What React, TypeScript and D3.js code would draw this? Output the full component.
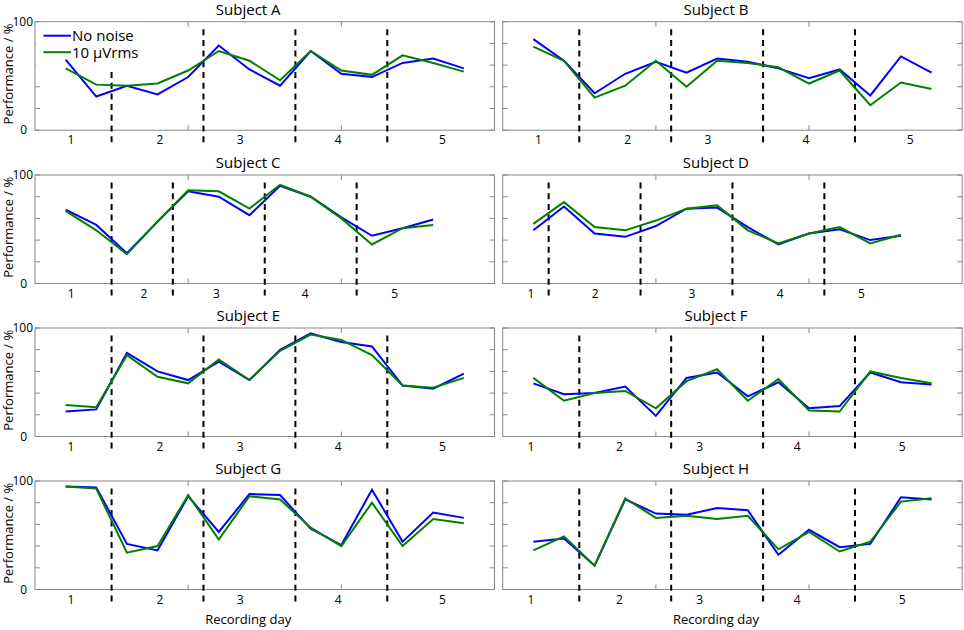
import * as d3 from "d3";

const subjects = ["A", "B", "C", "D", "E", "F", "G", "H"];
const dayNames = ["1", "2", "3", "4", "5"];

// performance per session (%)
const noNoise = [
  [65, 31, 41, 33, 49, 78, 56, 41, 73, 52, 49, 62, 66, 57],
  [84, 64, 34, 52, 63, 53, 66, 63, 57, 48, 56, 32, 68, 53],
  [68, 54, 28, 57, 85, 80, 63, 90, 80, 61, 44, 51, 59],
  [49, 71, 46, 43, 53, 69, 70, 52, 36, 46, 50, 40, 44],
  [23, 25, 77, 60, 52, 69, 52, 80, 95, 87, 83, 47, 44, 58],
  [49, 39, 40, 46, 19, 54, 59, 37, 50, 26, 28, 59, 50, 48],
  [95, 94, 42, 36, 86, 53, 88, 87, 56, 41, 92, 44, 71, 66],
  [44, 47, 22, 83, 70, 69, 75, 73, 32, 55, 39, 42, 85, 83],
];

const noise10 = [
  [57, 42, 41, 43, 55, 73, 64, 46, 73, 55, 51, 69, 62, 54],
  [77, 64, 30, 41, 64, 40, 64, 62, 58, 43, 55, 23, 44, 38],
  [67, 49, 27, 57, 86, 85, 69, 91, 80, 60, 36, 51, 54],
  [55, 75, 52, 49, 58, 69, 72, 49, 37, 46, 52, 37, 45],
  [29, 27, 75, 55, 49, 71, 52, 79, 94, 89, 75, 47, 45, 54],
  [54, 33, 40, 42, 26, 51, 62, 33, 53, 24, 23, 60, 54, 49],
  [95, 93, 34, 40, 87, 46, 86, 83, 57, 40, 80, 40, 65, 61],
  [36, 49, 22, 84, 66, 68, 65, 68, 37, 53, 35, 44, 81, 84],
];

// session boundaries between recording days
const dayBreaks = [
  [2.5, 5.5, 8.5, 11.5],
  [2.5, 5.5, 8.5, 11.5],
  [2.5, 4.5, 7.5, 10.5],
  [1.5, 4.5, 7.5, 10.5],
  [2.5, 5.5, 8.5, 11.5],
  [2.5, 5.5, 8.5, 11.5],
  [2.5, 5.5, 8.5, 11.5],
  [2.5, 5.5, 8.5, 11.5],
];

// where the day numbers sit along the session axis
const dayLabelPos = [
  [1.17, 4.08, 6.7, 9.9, 13.3],
  [1.17, 4.08, 6.7, 9.9, 13.3],
  [1.18, 3.56, 5.92, 8.82, 11.74],
  [0.92, 3.02, 6.18, 9.06, 11.71],
  [1.17, 4.08, 6.7, 9.9, 13.3],
  [0.92, 3.81, 6.43, 9.61, 13.04],
  [1.17, 4.08, 6.7, 9.9, 13.3],
  [0.92, 3.81, 6.43, 9.61, 13.04],
];

const yTicks = [0, 20, 40, 60, 80, 100];
const xTicks = [5, 10];
const seriesNames = ["No noise", "10 \u00b5Vrms"];

const BLUE = "#0000ff";
const GREEN = "#007f00";
const FRAME = "#888";
const FONT = "'Open Sans', sans-serif";

const colX = [35, 502.7];
const rowY = [21.7, 175, 328, 481];
const panelW = 459.5;
const panelH = 108.5;

function Panel({ idx }: { idx: number }) {
  const col = idx % 2;
  const row = Math.floor(idx / 2);
  const x = d3.scaleLinear().domain([0, 15]).range([0, panelW]);
  const y = d3.scaleLinear().domain([0, 100]).range([panelH, 0]);
  const line = d3
    .line<number>()
    .x((_, i) => x(i + 1))
    .y((d) => y(d));
  const tick = 5;

  return (
    <g transform={`translate(${colX[col]},${rowY[row]})`}>
      <text
        x={panelW * 0.464}
        y={-7}
        textAnchor="middle"
        fontSize={15}
        fill="#000"
      >
        {`Subject ${subjects[idx]}`}
      </text>
      <rect
        x={0}
        y={0}
        width={panelW}
        height={panelH}
        fill="none"
        stroke={FRAME}
        strokeWidth={1}
      />
      {yTicks.map((t) => (
        <g key={`y${t}`}>
          <line x1={0} x2={tick} y1={y(t)} y2={y(t)} stroke={FRAME} />
          <line
            x1={panelW - tick}
            x2={panelW}
            y1={y(t)}
            y2={y(t)}
            stroke={FRAME}
          />
        </g>
      ))}
      {xTicks.map((t) => (
        <g key={`x${t}`}>
          <line x1={x(t)} x2={x(t)} y1={0} y2={tick} stroke={FRAME} />
          <line
            x1={x(t)}
            x2={x(t)}
            y1={panelH - tick}
            y2={panelH}
            stroke={FRAME}
          />
        </g>
      ))}
      {col === 0 && (
        <g fontSize={12} textAnchor="end">
          <text x={-2} y={y(100)} dy="0.35em">
            100
          </text>
          <text x={-8} y={y(0)} dy="0.35em">
            0
          </text>
          <text
            transform={`translate(${-22.5},${panelH / 2 - 2}) rotate(-90)`}
            textAnchor="middle"
            fontSize={13}
          >
            Performance / %
          </text>
        </g>
      )}
      {dayBreaks[idx].map((b) => (
        <line
          key={`b${b}`}
          x1={x(b)}
          x2={x(b)}
          y1={panelH + 12}
          y2={3}
          stroke="#000"
          strokeWidth={2}
          strokeDasharray="6,4.7"
        />
      ))}
      {dayNames.map((d, i) => (
        <text
          key={`d${d}`}
          x={x(dayLabelPos[idx][i])}
          y={panelH + 14}
          textAnchor="middle"
          fontSize={12}
        >
          {d}
        </text>
      ))}
      {idx === 0 && (
        <rect x={1} y={1} width={110} height={47} fill="#fff" />
      )}
      <path
        d={line(noNoise[idx]) ?? ""}
        fill="none"
        stroke={BLUE}
        strokeWidth={2}
      />
      <path
        d={line(noise10[idx]) ?? ""}
        fill="none"
        stroke={GREEN}
        strokeWidth={2}
      />
      {row === 3 && (
        <text
          x={panelW * 0.464}
          y={panelH + 34}
          textAnchor="middle"
          fontSize={13}
        >
          Recording day
        </text>
      )}
      {idx === 0 && (
        <g fontSize={15}>
          {seriesNames.map((n, i) => (
            <g key={n} transform={`translate(0,${14 + i * 16.5})`}>
              <line
                x1={8.5}
                x2={36}
                y1={0}
                y2={0}
                stroke={i === 0 ? BLUE : GREEN}
                strokeWidth={2}
              />
              <text x={37} y={0} dy="0.36em">
                {n}
              </text>
            </g>
          ))}
        </g>
      )}
    </g>
  );
}

export default function App() {
  return (
    <svg
      width={964}
      height={630}
      style={{ position: "absolute", left: 0, top: 0, background: "#fff" }}
      fontFamily={FONT}
    >
      {subjects.map((_, i) => (
        <Panel key={i} idx={i} />
      ))}
    </svg>
  );
}
